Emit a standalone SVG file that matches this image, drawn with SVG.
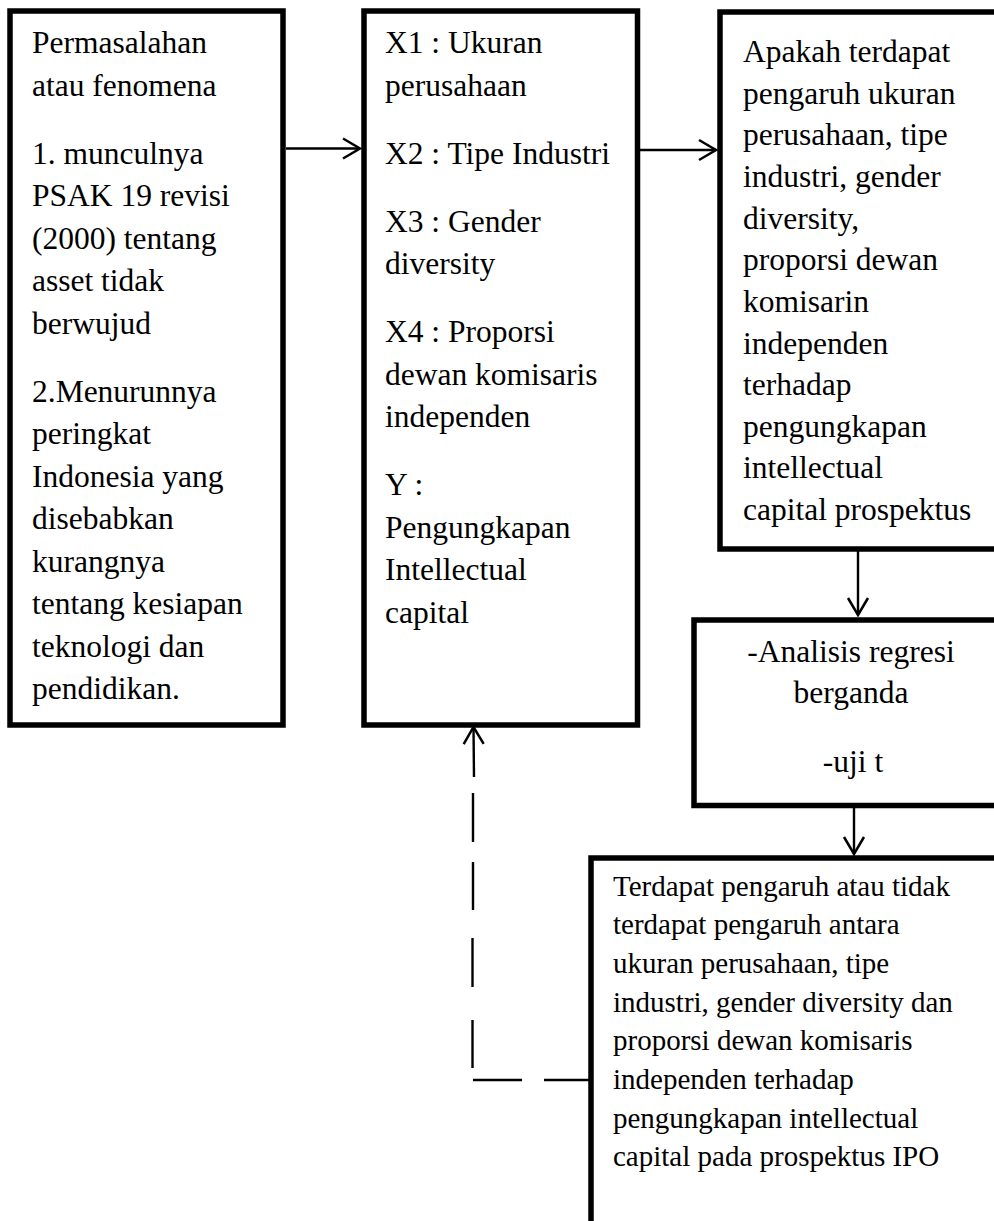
<svg xmlns="http://www.w3.org/2000/svg" width="994" height="1221" viewBox="0 0 994 1221">
  <defs>
    <style>
      .box { fill: #fff; stroke: #000; stroke-width: 5.5; }
      .t { font-family: "Liberation Serif", "Times New Roman", serif; font-size: 31.5px; fill: #000; }
      .ts { font-family: "Liberation Serif", "Times New Roman", serif; font-size: 29px; fill: #000; }
      .c { text-anchor: middle; }
      .ln { stroke: #000; stroke-width: 2.4; fill: none; }
    </style>
    <marker id="arr" markerWidth="20" markerHeight="22" refX="17" refY="10" orient="auto" markerUnits="userSpaceOnUse" overflow="visible">
      <path d="M0,0 L17,10 L0,20" fill="none" stroke="#000" stroke-width="2.5"/>
    </marker>
  </defs>
  <rect width="994" height="1221" fill="#fff"/>

  <g id="node-permasalahan">
    <rect class="box" x="10" y="11" width="273" height="714"/>
    <text class="t" x="32" y="53">Permasalahan</text>
    <text class="t" x="32" y="95.5">atau fenomena</text>
    <text class="t" x="32" y="163.5">1. munculnya</text>
    <text class="t" x="32" y="206">PSAK 19 revisi</text>
    <text class="t" x="32" y="248.5">(2000) tentang</text>
    <text class="t" x="32" y="291">asset tidak</text>
    <text class="t" x="32" y="333.5">berwujud</text>
    <text class="t" x="32" y="401.5">2.Menurunnya</text>
    <text class="t" x="32" y="444">peringkat</text>
    <text class="t" x="32" y="486.5">Indonesia yang</text>
    <text class="t" x="32" y="529">disebabkan</text>
    <text class="t" x="32" y="571.5">kurangnya</text>
    <text class="t" x="32" y="614">tentang kesiapan</text>
    <text class="t" x="32" y="656.5">teknologi dan</text>
    <text class="t" x="32" y="699">pendidikan.</text>
  </g>

  <g id="node-variabel">
    <rect class="box" x="364" y="11" width="273.5" height="714"/>
    <text class="t" x="385" y="53">X1 : Ukuran</text>
    <text class="t" x="385" y="95.5">perusahaan</text>
    <text class="t" x="385" y="163.5">X2 : Tipe Industri</text>
    <text class="t" x="385" y="231.5">X3 : Gender</text>
    <text class="t" x="385" y="274">diversity</text>
    <text class="t" x="385" y="342">X4 : Proporsi</text>
    <text class="t" x="385" y="384.5">dewan komisaris</text>
    <text class="t" x="385" y="427">independen</text>
    <text class="t" x="385" y="495">Y :</text>
    <text class="t" x="385" y="537.5">Pengungkapan</text>
    <text class="t" x="385" y="580">Intellectual</text>
    <text class="t" x="385" y="622.5">capital</text>
  </g>

  <g id="node-rumusan">
    <rect class="box" x="720" y="12" width="290" height="537"/>
    <text class="t" x="743" y="62">Apakah terdapat</text>
    <text class="t" x="743" y="103.6">pengaruh ukuran</text>
    <text class="t" x="743" y="145.3">perusahaan, tipe</text>
    <text class="t" x="743" y="186.9">industri, gender</text>
    <text class="t" x="743" y="228.5">diversity,</text>
    <text class="t" x="743" y="270.2">proporsi dewan</text>
    <text class="t" x="743" y="311.8">komisarin</text>
    <text class="t" x="743" y="353.5">independen</text>
    <text class="t" x="743" y="395.1">terhadap</text>
    <text class="t" x="743" y="436.7">pengungkapan</text>
    <text class="t" x="743" y="478.4">intellectual</text>
    <text class="t" x="743" y="520">capital prospektus</text>
  </g>

  <g id="node-analisis">
    <rect class="box" x="694" y="620" width="320" height="185.5"/>
    <text class="t c" x="851" y="661.5">-Analisis regresi</text>
    <text class="t c" x="851" y="703">berganda</text>
    <text class="t c" x="853" y="771.5">-uji t</text>
  </g>

  <g id="node-hasil">
    <rect class="box" x="591" y="858" width="420" height="400"/>
    <text class="ts" x="613" y="895.5">Terdapat pengaruh atau tidak</text>
    <text class="ts" x="613" y="934.2">terdapat pengaruh antara</text>
    <text class="ts" x="613" y="972.9">ukuran perusahaan, tipe</text>
    <text class="ts" x="613" y="1011.6">industri, gender diversity dan</text>
    <text class="ts" x="613" y="1050.3">proporsi dewan komisaris</text>
    <text class="ts" x="613" y="1089">independen terhadap</text>
    <text class="ts" x="613" y="1127.7">pengungkapan intellectual</text>
    <text class="ts" x="613" y="1166.4">capital pada prospektus IPO</text>
  </g>

  <g id="connectors">
    <line class="ln" x1="286" y1="148.5" x2="360" y2="148.5" marker-end="url(#arr)"/>
    <line class="ln" x1="640" y1="150" x2="716" y2="150" marker-end="url(#arr)"/>
    <line class="ln" x1="858" y1="551" x2="858" y2="615" marker-end="url(#arr)"/>
    <line class="ln" x1="854" y1="808" x2="854" y2="854" marker-end="url(#arr)"/>
    <g id="feedback-dashed">
      <line class="ln" x1="590" y1="1080" x2="544" y2="1080"/>
      <line class="ln" x1="522" y1="1080" x2="473" y2="1080"/>
      <line class="ln" x1="472.5" y1="1068" x2="472.5" y2="1020"/>
      <line class="ln" x1="472.5" y1="987" x2="472.5" y2="938"/>
      <line class="ln" x1="473" y1="910" x2="473" y2="862"/>
      <line class="ln" x1="473" y1="842" x2="473" y2="793"/>
      <line class="ln" x1="474" y1="777" x2="473.5" y2="727" marker-end="url(#arr)"/>
    </g>
  </g>
</svg>
